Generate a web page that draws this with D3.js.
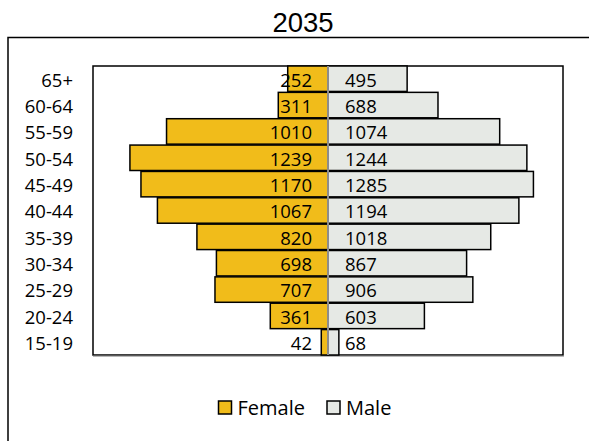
<!DOCTYPE html>
<html>
<head>
<meta charset="utf-8">
<script src="https://cdn.jsdelivr.net/npm/d3@7"></script>
<style>
  html, body { margin: 0; padding: 0; background: #fff; }
  svg { display: block; }
</style>
</head>
<body>
<svg id="chart" width="589" height="441"></svg>
<script>
// Population pyramid, 2035 projection (age groups, top = oldest)
const title = "2035";
const ageGroups = ["65+", "60-64", "55-59", "50-54", "45-49", "40-44", "35-39", "30-34", "25-29", "20-24", "15-19"];
const female = [252, 311, 1010, 1239, 1170, 1067, 820, 698, 707, 361, 42];
const male = [495, 688, 1074, 1244, 1285, 1194, 1018, 867, 906, 603, 68];
const seriesNames = ["Female", "Male"];
const xLimit = 1470;

const colors = { Female: "#F1BC1A", Male: "#E6E9E5" };
const labelFont = "'Open Sans', 'Noto Sans', sans-serif";

const svg = d3.select("#chart");
const plot = { left: 93, right: 563, top: 66, bottom: 355 };

// Outer chart frame (extends past the visible area)
svg.append("rect")
  .attr("x", 8).attr("y", 37.5)
  .attr("width", 640).attr("height", 460)
  .attr("fill", "none").attr("stroke", "#000").attr("stroke-width", 1.5);

// Title
svg.append("text")
  .attr("x", 303).attr("y", 31.5)
  .attr("text-anchor", "middle")
  .attr("font-family", "'Liberation Sans', Arial, sans-serif")
  .attr("font-size", 27.5)
  .attr("fill", "#000")
  .text(title);

const x = d3.scaleLinear().domain([-xLimit, xLimit]).range([plot.left, plot.right]);
const y = d3.scaleBand().domain(ageGroups).range([plot.top, plot.bottom]).paddingInner(0.035).paddingOuter(0);

// Plot area border
svg.append("rect")
  .attr("x", plot.left).attr("y", plot.top)
  .attr("width", plot.right - plot.left).attr("height", plot.bottom - plot.top)
  .attr("fill", "#fff").attr("stroke", "#000").attr("stroke-width", 1.5);
svg.append("line")
  .attr("x1", plot.left).attr("x2", plot.right + 1)
  .attr("y1", plot.bottom + 1.2).attr("y2", plot.bottom + 1.2)
  .attr("stroke", "#999").attr("stroke-width", 1);

const rows = ageGroups.map((g, i) => ({ g, f: female[i], m: male[i] }));

// Female bars (left of zero)
svg.append("g").selectAll("rect").data(rows).join("rect")
  .attr("x", d => x(-d.f))
  .attr("y", d => y(d.g))
  .attr("width", d => x(0) - x(-d.f))
  .attr("height", y.bandwidth())
  .attr("fill", colors.Female)
  .attr("stroke", "#000").attr("stroke-width", 1.5);

// Male bars (right of zero)
svg.append("g").selectAll("rect").data(rows).join("rect")
  .attr("x", x(0))
  .attr("y", d => y(d.g))
  .attr("width", d => x(d.m) - x(0))
  .attr("height", y.bandwidth())
  .attr("fill", colors.Male)
  .attr("stroke", "#000").attr("stroke-width", 1.5);

// Vertical category axis at zero
svg.append("line")
  .attr("x1", x(0)).attr("x2", x(0))
  .attr("y1", plot.top).attr("y2", plot.bottom)
  .attr("stroke", "#8c8c8c").attr("stroke-width", 2);

const baselineShift = 7.8;

// Value labels
svg.append("g").selectAll("text").data(rows).join("text")
  .attr("x", x(0) - 16)
  .attr("y", d => y(d.g) + y.bandwidth() / 2 + baselineShift)
  .attr("text-anchor", "end")
  .attr("font-family", labelFont).attr("font-size", 18.5).attr("fill", "#000")
  .text(d => d.f);

svg.append("g").selectAll("text").data(rows).join("text")
  .attr("x", x(0) + 17)
  .attr("y", d => y(d.g) + y.bandwidth() / 2 + baselineShift)
  .attr("text-anchor", "start")
  .attr("font-family", labelFont).attr("font-size", 18.5).attr("fill", "#000")
  .text(d => d.m);

// Age group labels
svg.append("g").selectAll("text").data(ageGroups).join("text")
  .attr("x", 73)
  .attr("y", d => y(d) + y.bandwidth() / 2 + baselineShift)
  .attr("text-anchor", "end")
  .attr("font-family", labelFont).attr("font-size", 18.5).attr("fill", "#000")
  .text(d => d);

// Legend
const legendX = [218.5, 327];
const legend = svg.append("g").selectAll("g").data(seriesNames).join("g")
  .attr("transform", (d, i) => `translate(${legendX[i]},401)`);
legend.append("rect")
  .attr("width", 13).attr("height", 13)
  .attr("fill", d => colors[d])
  .attr("stroke", "#000").attr("stroke-width", 1.5);
legend.append("text")
  .attr("x", 19).attr("y", 13.5)
  .attr("font-family", labelFont).attr("font-size", 20).attr("fill", "#000")
  .text(d => d);
</script>
</body>
</html>
